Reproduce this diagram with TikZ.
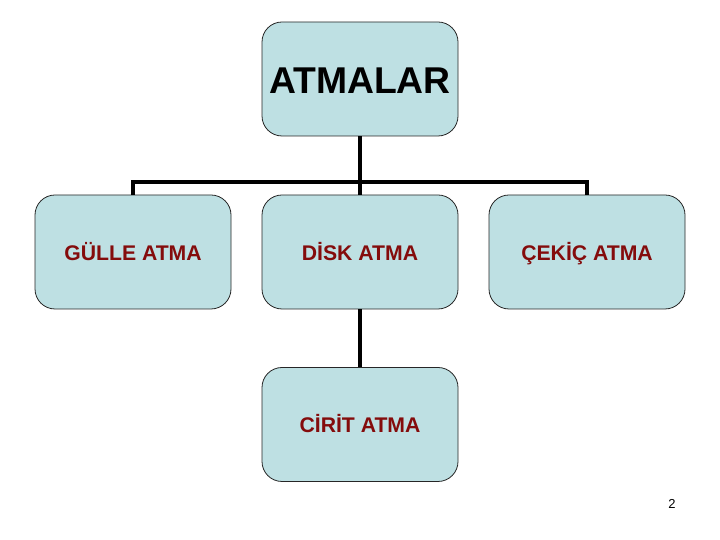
\documentclass[tikz,border=0pt]{standalone}
\usepackage{fontspec}
\setmainfont{Liberation Sans}
\usepackage{xcolor}
\definecolor{atmbg}{HTML}{BEE0E3}
\definecolor{atmkw}{HTML}{840C0C}
\usetikzlibrary{positioning,calc}

\begin{document}
\begin{tikzpicture}[x=1pt,y=1pt,
  atmbox/.style={draw=black!85,line width=0.8pt,rounded corners=20pt,fill=atmbg,
    minimum width=196pt,minimum height=114pt,inner sep=0pt},
  subtxt/.style={font=\fontsize{21.2}{24}\selectfont\bfseries,text=atmkw,
    text height=17pt,text depth=0pt},
  conn/.style={draw=black,line width=3.5pt}]
\useasboundingbox (0,0) rectangle (720,540);
\node[atmbox,font=\fontsize{37.3}{42}\selectfont\bfseries,text height=29pt,text depth=0pt] (atmalar) at (360,461) {ATMALAR};
\node[atmbox,subtxt] (gulle) at (133,288) {GÜLLE ATMA};
\node[atmbox,subtxt] (disk) at (360,288) {DİSK ATMA};
\node[atmbox,subtxt] (cekic) at (587,288) {ÇEKİÇ ATMA};
\node[atmbox,subtxt] (cirit) at (360,115.5) {CİRİT ATMA};
\coordinate (bus) at (360,358);
\draw[conn] (atmalar.south) -- (bus);
\draw[conn] (bus) -| (gulle.north);
\draw[conn] (bus) -| (cekic.north);
\draw[conn] (bus) -- (disk.north);
\draw[conn] (disk.south) -- (cirit.north);
\node[font=\fontsize{13}{15}\selectfont] (pagenum) at (672,36) {2};
\end{tikzpicture}
\end{document}
